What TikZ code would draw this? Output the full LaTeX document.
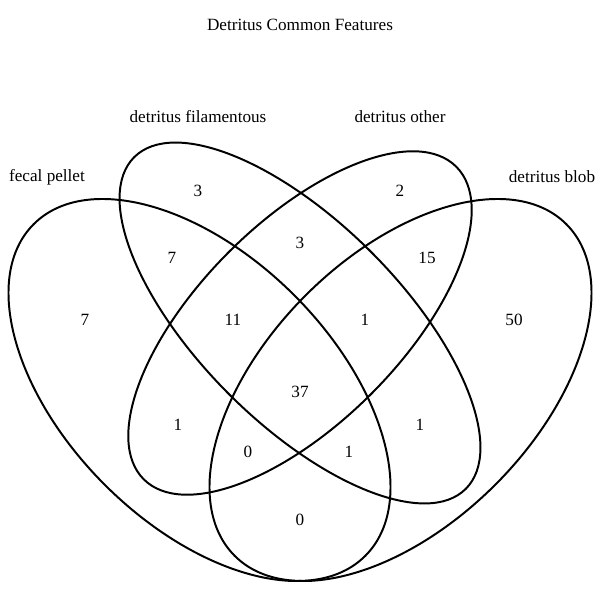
\documentclass[tikz,border=0pt]{standalone}
\usepackage{fontspec}
\setmainfont{Liberation Serif}
\usetikzlibrary{positioning}

\begin{document}
\begin{tikzpicture}[x=0.025cm,y=0.025cm,every node/.style={font=\fontsize{12.2}{14}\selectfont},set/.style={line width=1.4pt}]
  \useasboundingbox (0,0) rectangle (600,600);
  % the four sets
  \draw[set,rotate around={135:(199.5,210)}] (199.5,210) ellipse [x radius=234.5,y radius=134];
  \draw[set,rotate around={135:(300,277)}] (300,277) ellipse [x radius=234.5,y radius=100.5];
  \draw[set,rotate around={45:(300,277)}] (300,277) ellipse [x radius=221,y radius=100.5];
  \draw[set,rotate around={45:(400.5,210)}] (400.5,210) ellipse [x radius=234.5,y radius=134];
  \node (title) at (300,575) {Detritus Common Features};
  \foreach \x/\y/\name/\txt in {198/483/lfil/detritus filamentous,400/483/loth/detritus other,47/423/lfec/fecal pellet,552/423/lblob/detritus blob}{
    \node (\name) at (\x,\y) {\txt};
  }
  \foreach \x/\y/\name/\txt in {198/409/n1/3,400/409/n2/2,172/342/n3/7,300/357/n4/3,427/342/n5/15,85/280/n6/7,233/280/n7/11,365/280/n8/1,514/280/n9/50,300/208/n10/37,178/175/n11/1,420/175/n12/1,248/148/n13/0,349/148/n14/1,300/80/n15/0}{
    \node (\name) at (\x,\y) {\txt};
  }
\end{tikzpicture}
\end{document}
